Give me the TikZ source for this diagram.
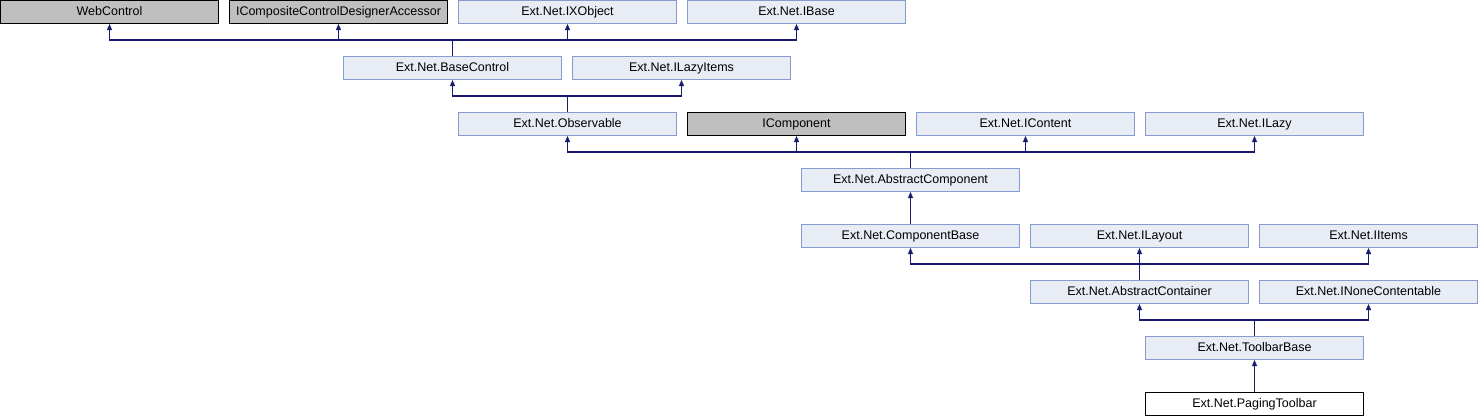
\documentclass[tikz,border=0pt]{standalone}
\usepackage{fontspec}
\setmainfont{Liberation Sans}
\usetikzlibrary{arrows.meta}
\definecolor{boxfill}{RGB}{232,236,245}
\definecolor{boxline}{RGB}{132,156,207}
\definecolor{grayfill}{RGB}{191,191,191}
\definecolor{edgecol}{RGB}{25,25,112}
\tikzset{
  cls/.style={draw=boxline, fill=boxfill, line width=1pt, minimum width=218pt, minimum height=23pt, inner sep=0pt, text height=8.5pt, text depth=2.5pt, font=\fontsize{12.5}{14}\selectfont},
  ext/.style={cls, draw=black, fill=grayfill},
  cur/.style={cls, draw=black, fill=white},
  edge/.style={draw=edgecol, line width=1.2pt, -{Triangle[length=6pt,width=5pt]}}
}
\begin{document}
\begin{tikzpicture}[x=1pt,y=-1pt]
\useasboundingbox (0,0) rectangle (1478,416);
% row 1
\node[ext] (WebControl) at (109.5,12) {WebControl};
\node[ext] (ICCDA) at (338.5,12) {ICompositeControlDesignerAccessor};
\node[cls] (IXObject) at (567.5,12) {Ext.Net.IXObject};
\node[cls] (IBase) at (796.5,12) {Ext.Net.IBase};
% row 2
\node[cls] (BaseControl) at (452.5,68) {Ext.Net.BaseControl};
\node[cls] (ILazyItems) at (681.5,68) {Ext.Net.ILazyItems};
% row 3
\node[cls] (Observable) at (567.5,124) {Ext.Net.Observable};
\node[ext] (IComponent) at (796.5,124) {IComponent};
\node[cls] (IContent) at (1025.5,124) {Ext.Net.IContent};
\node[cls] (ILazy) at (1254.5,124) {Ext.Net.ILazy};
% row 4
\node[cls] (AbstractComponent) at (910.5,180) {Ext.Net.AbstractComponent};
% row 5
\node[cls] (ComponentBase) at (910.5,236) {Ext.Net.ComponentBase};
\node[cls] (ILayout) at (1139.5,236) {Ext.Net.ILayout};
\node[cls] (IItems) at (1368.5,236) {Ext.Net.IItems};
% row 6
\node[cls] (AbstractContainer) at (1139.5,292) {Ext.Net.AbstractContainer};
\node[cls] (INoneContentable) at (1368.5,292) {Ext.Net.INoneContentable};
% row 7
\node[cls] (ToolbarBase) at (1254.5,348) {Ext.Net.ToolbarBase};
% row 8
\node[cur] (PagingToolbar) at (1254.5,404) {Ext.Net.PagingToolbar};
% buses
\coordinate (busA) at (0,40);
\coordinate (busB) at (0,96);
\coordinate (busC) at (0,152);
\coordinate (busD) at (0,264);
\coordinate (busE) at (0,320);
% edges
\foreach \t in {WebControl,ICCDA,IXObject,IBase}
  \draw[edge] (BaseControl.north) -- (BaseControl.north |- busA) -| (\t.south);
\foreach \t in {BaseControl,ILazyItems}
  \draw[edge] (Observable.north) -- (Observable.north |- busB) -| (\t.south);
\foreach \t in {Observable,IComponent,IContent,ILazy}
  \draw[edge] (AbstractComponent.north) -- (AbstractComponent.north |- busC) -| (\t.south);
\draw[edge] (ComponentBase.north) -- (AbstractComponent.south);
\foreach \t in {ComponentBase,ILayout,IItems}
  \draw[edge] (AbstractContainer.north) -- (AbstractContainer.north |- busD) -| (\t.south);
\foreach \t in {AbstractContainer,INoneContentable}
  \draw[edge] (ToolbarBase.north) -- (ToolbarBase.north |- busE) -| (\t.south);
\draw[edge] (PagingToolbar.north) -- (ToolbarBase.south);
\end{tikzpicture}
\end{document}
